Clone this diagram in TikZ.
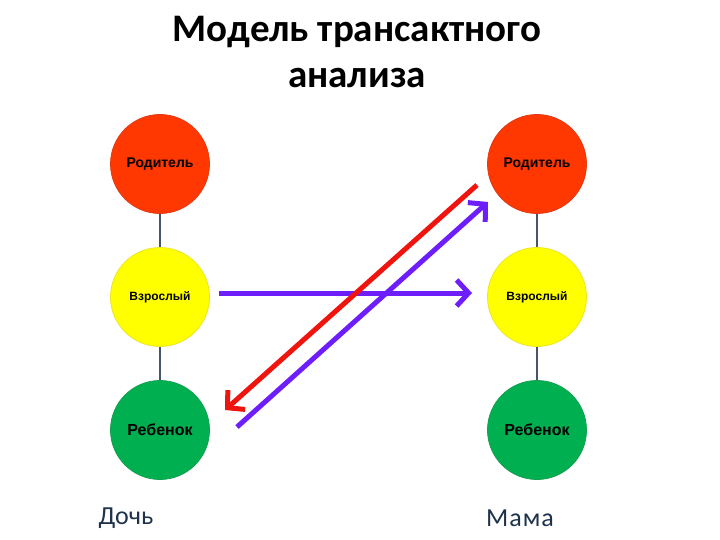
\documentclass[tikz,border=0pt]{standalone}
\usepackage{fontspec}
\setmainfont{Liberation Sans}
\newfontfamily\calib{Carlito}
\usetikzlibrary{arrows.meta}
\definecolor{parentc}{RGB}{255,55,0}
\definecolor{parentd}{RGB}{225,60,20}
\definecolor{adultc}{RGB}{255,255,0}
\definecolor{adultd}{RGB}{235,230,40}
\definecolor{childc}{RGB}{0,176,80}
\definecolor{childd}{RGB}{20,160,80}
\definecolor{linkc}{RGB}{70,85,105}
\definecolor{purp}{RGB}{110,30,250}
\definecolor{redarr}{RGB}{240,20,15}
\definecolor{namec}{RGB}{30,50,75}
\tikzset{
  ego/.style={circle, minimum size=99pt, inner sep=0pt, line width=0.8pt},
  par/.style={ego, fill=parentc, draw=parentd, font=\bfseries\fontsize{14}{16}\selectfont},
  adl/.style={ego, fill=adultc, draw=adultd, font=\bfseries\fontsize{12}{14}\selectfont},
  chl/.style={ego, fill=childc, draw=childd, font=\bfseries\fontsize{16}{18}\selectfont},
  link/.style={draw=linkc, line width=1.5pt},
  transac/.style={line width=5pt, -{Straight Barb[length=12pt,width=26pt]}},
  who/.style={font=\calib\fontsize{26}{28}\selectfont, text=namec},
}
\begin{document}
\begin{tikzpicture}[x=1pt,y=-1pt]
\useasboundingbox (0,0) rectangle (720,540);
\node[font=\calib\bfseries\fontsize{39}{47}\selectfont, align=center] (title) at (357,52) {Модель трансактного\\анализа};

\node[par] (lp) at (160,164) {Родитель};
\node[adl] (la) at (160,297) {Взрослый};
\node[chl] (lc) at (160,430) {Ребенок};
\node[par] (rp) at (537,164) {Родитель};
\node[adl] (ra) at (537,297) {Взрослый};
\node[chl] (rc) at (537,430) {Ребенок};

\draw[link] (lp.south) -- (la.north);
\draw[link] (la.south) -- (lc.north);
\draw[link] (rp.south) -- (ra.north);
\draw[link] (ra.south) -- (rc.north);

\node[who] (doch) at (126,518) {Дочь};
\node[who] (mama) at (520,518) {М\kern1ptа\kern1ptм\kern1ptа};

\coordinate (h1) at (219,293);
\coordinate (h2) at (472,293);
\coordinate (r1) at (477,185);
\coordinate (r2) at (225,410);
\coordinate (p1) at (237,427);
\coordinate (p2) at (488,202);

\draw[transac, draw=purp] (h1) -- (h2);
\draw[transac, draw=redarr] (r1) -- (r2);
\draw[transac, draw=purp] (p1) -- (p2);
\end{tikzpicture}
\end{document}
